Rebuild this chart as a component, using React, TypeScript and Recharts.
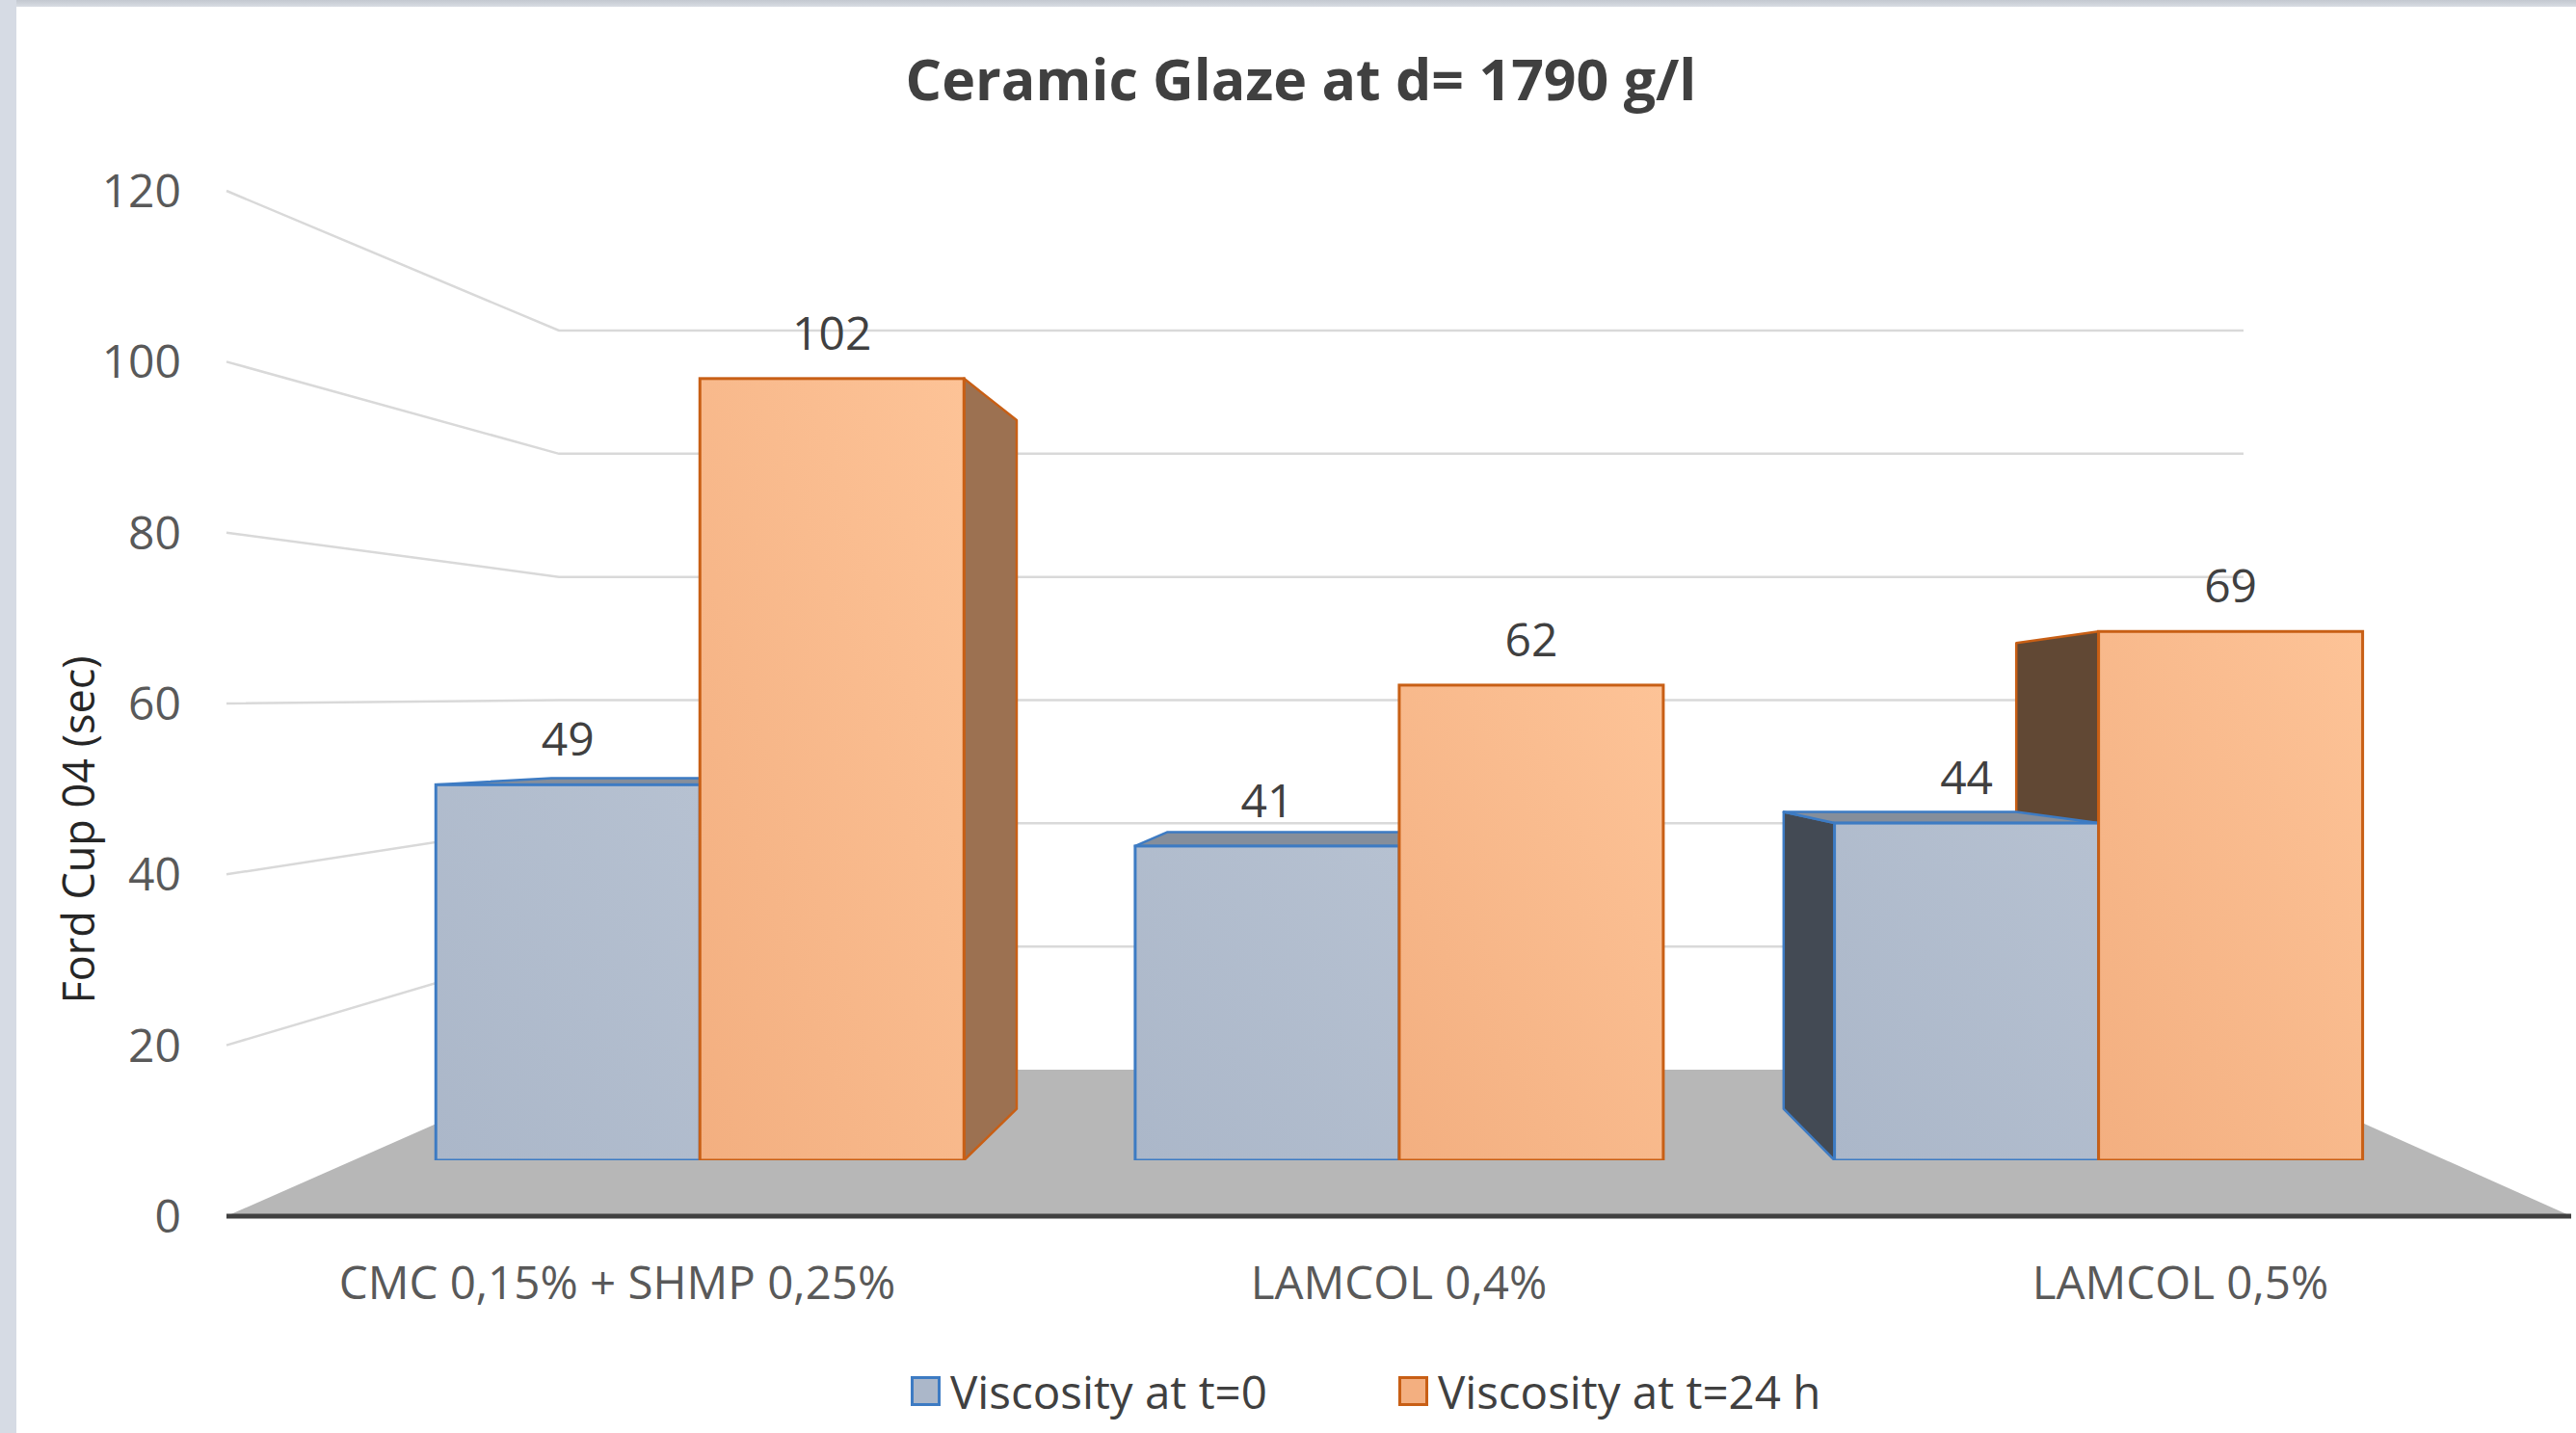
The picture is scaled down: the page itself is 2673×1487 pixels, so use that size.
import React from 'react';
import { BarChart, Bar, XAxis, YAxis, CartesianGrid, Legend, LabelList } from 'recharts';

const categories = ['CMC 0,15% + SHMP 0,25%', 'LAMCOL 0,4%', 'LAMCOL 0,5%'];
const viscosityT0 = [49, 41, 44];
const viscosityT24 = [102, 62, 69];
const yTicks = [0, 20, 40, 60, 80, 100, 120];

const data = categories.map((name, i) => ({ name, t0: viscosityT0[i], t24: viscosityT24[i] }));

const series = [
  { key: 't0', name: 'Viscosity at t=0', light: '#b6c1d1', dark: '#abb7c9', stroke: '#3d7bc3', top: '#858e9b', left: '#434a54', right: '#5f6874' },
  { key: 't24', name: 'Viscosity at t=24 h', light: '#fdc397', dark: '#f3af80', stroke: '#c85f15', top: '#b48765', left: '#614834', right: '#9c7151' },
];

// geometry of the fake 3D box, in page pixels
const WIDTH = 2673;
const HEIGHT = 1487;
const PLOT_TOP = 198;
const PLOT_BOTTOM = 1262;
const WALL_TOP = 343; // back wall at 120
const WALL_FLOOR = 1110; // back wall at 0
const WALL_INSET_L = 345;
const WALL_INSET_R = 340;
const BAR_FLOOR = 1204; // base of the front faces
const BAR_MAX = 126.5;
const BAR_PAD = 128;
const VP = { x: 1460, y: 756 };
const DEPTH = 0.119;

const FONT = '"Open Sans", "Noto Sans", sans-serif';

const backPt = (px: number, py: number) => [px + (VP.x - px) * DEPTH, py + (VP.y - py) * DEPTH];

const SideFaces = ({ x, y, width, height, s }: any) => {
  if (!height) return null;
  const x2 = x + width;
  const y2 = y + height;
  const faces: React.ReactNode[] = [];
  if (x > VP.x) {
    const [bx, by1] = backPt(x, y);
    const [, by2] = backPt(x, y2);
    faces.push(
      <polygon key="l" points={`${x},${y} ${bx},${by1} ${bx},${by2} ${x},${y2}`}
        fill={s.left} stroke={s.stroke} strokeWidth={2.5} strokeLinejoin="round" />
    );
  }
  if (x2 < VP.x) {
    const [bx, by1] = backPt(x2, y);
    const [, by2] = backPt(x2, y2);
    faces.push(
      <polygon key="r" points={`${x2},${y} ${bx},${by1} ${bx},${by2} ${x2},${y2}`}
        fill={s.right} stroke={s.stroke} strokeWidth={2.5} strokeLinejoin="round" />
    );
  }
  return <g>{faces}</g>;
};

const FrontFace = ({ x, y, width, height, s }: any) => {
  if (!height) return null;
  const x2 = x + width;
  let top = null;
  if (y > VP.y) {
    const [bx1, by] = backPt(x, y);
    const [bx2] = backPt(x2, y);
    top = (
      <polygon points={`${x},${y} ${bx1},${by} ${bx2},${by} ${x2},${y}`}
        fill={s.top} stroke={s.stroke} strokeWidth={2.5} strokeLinejoin="round" />
    );
  }
  const id = `front-${s.key}`;
  return (
    <g>
      <defs>
        <linearGradient id={id} x1="1" y1="0" x2="0" y2="1">
          <stop offset="0%" stopColor={s.light} />
          <stop offset="100%" stopColor={s.dark} />
        </linearGradient>
      </defs>
      {top}
      <rect x={x} y={y} width={width} height={height} fill={`url(#${id})`} stroke={s.stroke} strokeWidth={3} />
    </g>
  );
};

// back wall gridline + side wall diagonal; the 0 line becomes the floor
const renderWall = (p: any) => {
  const { x1, x2, y1 } = p;
  const wl = x1 + WALL_INSET_L;
  const wr = x2 - WALL_INSET_R;
  if (Math.abs(y1 - WALL_FLOOR) < 2) {
    return (
      <polygon key={p.key} points={`${x1},${PLOT_BOTTOM} ${wl},${y1} ${wr},${y1} ${x2},${PLOT_BOTTOM}`} fill="#b7b7b7" />
    );
  }
  const frontY = PLOT_BOTTOM - ((WALL_FLOOR - y1) * (PLOT_BOTTOM - PLOT_TOP)) / (WALL_FLOOR - WALL_TOP);
  return (
    <polyline key={p.key} points={`${x1},${frontY} ${wl},${y1} ${wr},${y1}`} fill="none" stroke="#d9d9d9" strokeWidth={2.5} />
  );
};

const YTitle = ({ viewBox }: any) => {
  const cx = viewBox.x + 80;
  const cy = 861;
  return (
    <text x={cx} y={cy} transform={`rotate(-90 ${cx} ${cy})`} textAnchor="middle" dominantBaseline="central"
      fontSize={45} fill="#262626" fontFamily={FONT}>
      Ford Cup 04 (sec)
    </text>
  );
};

const LegendContent = ({ payload }: any) => {
  const items = (payload || []).filter((p: any) => p.type !== 'none');
  return (
    <div style={{ display: 'flex', alignItems: 'center', height: 80, paddingLeft: 945, fontFamily: FONT, fontSize: 47.5, color: '#404040' }}>
      {items.map((p: any, i: number) => {
        const s = series.find((d) => d.key === p.dataKey) || series[i];
        return (
          <div key={s.key} style={{ display: 'flex', alignItems: 'center', marginLeft: i ? 136 : 0 }}>
            <span style={{ display: 'inline-block', width: 25, height: 25, background: s.dark, border: `3px solid ${s.stroke}`, marginRight: 10 }} />
            <span>{p.value}</span>
          </div>
        );
      })}
    </div>
  );
};

export default function App() {
  return (
    <div style={{ position: 'absolute', left: 0, top: 0, width: WIDTH, height: HEIGHT, background: '#fff', overflow: 'hidden', fontFamily: FONT }}>
      <div style={{ position: 'absolute', left: 0, top: 0, width: WIDTH, height: 7, background: 'linear-gradient(#c3c8d0, #d8dce3)' }} />
      <div style={{ position: 'absolute', left: 0, top: 0, width: 17, height: HEIGHT, background: '#d6dbe4' }} />
      <div style={{ position: 'absolute', left: 0, top: 52, width: 2700, textAlign: 'center', fontSize: 59, lineHeight: '59px', fontWeight: 700, color: '#404040' }}>
        Ceramic Glaze at d= 1790 g/l
      </div>
      <BarChart
        width={WIDTH}
        height={HEIGHT}
        data={data}
        margin={{ top: PLOT_TOP, right: WIDTH - 2668, bottom: 4, left: 0 }}
        barCategoryGap="12.3%"
        barGap={0}
        style={{ position: 'absolute', left: 0, top: 0 }}
      >
        <XAxis xAxisId="labels" dataKey="name" interval={0} tickLine={false} tickSize={0} tickMargin={52} height={141}
          axisLine={{ stroke: '#404040', strokeWidth: 5 }} tick={{ fill: '#595959', fontSize: 47.5 }} />
        <XAxis xAxisId="bars" dataKey="name" hide height={0} padding={{ left: BAR_PAD, right: BAR_PAD }} />
        <XAxis xAxisId="sides" dataKey="name" hide height={0} padding={{ left: BAR_PAD, right: BAR_PAD }} />
        <YAxis yAxisId="left" type="number" domain={[0, 120]} ticks={yTicks} allowDataOverflow interval={0} width={235}
          axisLine={false} tickLine={false} tickSize={0} tickMargin={47} tick={{ fill: '#595959', fontSize: 48 }}
          label={{ content: YTitle }} />
        <YAxis yAxisId="barsY" hide width={0} domain={[0, BAR_MAX]} allowDataOverflow
          padding={{ top: 0, bottom: PLOT_BOTTOM - BAR_FLOOR }} />
        <YAxis yAxisId="wall" hide width={0} domain={[0, 120]} ticks={yTicks} allowDataOverflow
          padding={{ top: WALL_TOP - PLOT_TOP, bottom: PLOT_BOTTOM - WALL_FLOOR }} />
        <CartesianGrid xAxisId="labels" yAxisId="wall" vertical={false} syncWithTicks horizontal={renderWall} />
        {series.map((s) => (
          <Bar key={`side-${s.key}`} xAxisId="sides" yAxisId="barsY" dataKey={s.key} fill={s.dark} legendType="none"
            isAnimationActive={false}
            shape={(p: any) => <SideFaces x={p.x} y={p.y} width={p.width} height={p.height} s={s} />} />
        ))}
        {series.map((s) => (
          <Bar key={`front-${s.key}`} xAxisId="bars" yAxisId="barsY" dataKey={s.key} name={s.name} fill={s.dark}
            isAnimationActive={false}
            shape={(p: any) => <FrontFace x={p.x} y={p.y} width={p.width} height={p.height} s={s} />}>
            <LabelList dataKey={s.key} position="top" offset={30} fill="#404040" fontSize={48} />
          </Bar>
        ))}
        <Legend verticalAlign="bottom" align="left" content={LegendContent} />
      </BarChart>
    </div>
  );
}
